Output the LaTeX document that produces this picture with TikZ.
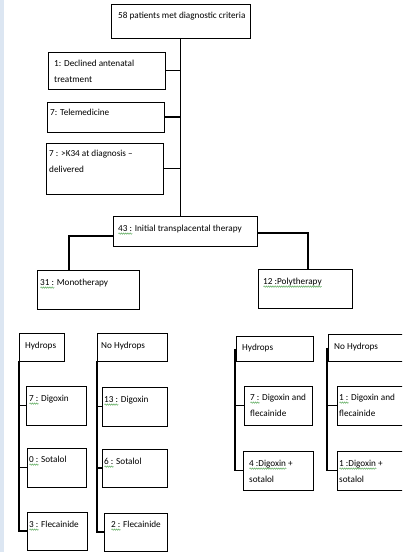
\documentclass[tikz,border=0pt]{standalone}
\usepackage{fontspec}
\setmainfont{Carlito}
\usetikzlibrary{calc,decorations.pathmorphing}
\definecolor{stripblue}{RGB}{220,230,242}
\definecolor{sqgreen}{RGB}{92,170,92}
\newlength\sqlen
\newcommand\sqg[1]{\leavevmode\settowidth\sqlen{#1}\rlap{\tikz[baseline=0pt]\draw[sqgreen, line width=0.5bp, decorate, decoration={snake, amplitude=0.7bp, segment length=2.2bp}] (0pt,-2.6bp) -- (\sqlen,-2.6bp);}#1}
\newcommand\mkbox[5]{\node[box, anchor=north west, minimum width={#4bp-#2bp}, minimum height={#5bp-#3bp}] (#1) at (#2,#3) {};}
\newcommand\twol[2]{\begin{tabular}[t]{@{}l@{}}#1\\#2\end{tabular}}
\begin{document}
\begin{tikzpicture}[x=1bp,y=-1bp,
  box/.style={draw=black, line width=0.9bp, inner sep=0pt, outer sep=0pt},
  conn/.style={draw=black, line width=1.6bp},
  txt/.style={inner sep=0pt, anchor=base west, font=\fontsize{9.2bp}{16bp}\selectfont}]
\useasboundingbox (0,0) rectangle (402,552);
\clip (0,0) rectangle (402,552);
\fill[stripblue] (0,0) rectangle (4,552);
% boxes
\mkbox{top}{111}{4}{250}{38}
\mkbox{decl}{48}{52}{165}{89}
\mkbox{tele}{47}{102}{164}{132}
\mkbox{k34}{46}{143}{163}{194}
\mkbox{init}{113}{216}{257}{246}
\mkbox{mono}{37}{270}{139}{309}
\mkbox{poly}{258}{269}{352}{308}
\mkbox{hydL}{19}{333}{64}{361}
\mkbox{nhL}{97}{333}{167}{361}
\mkbox{dLa}{26}{386}{86}{425}
\mkbox{dLb}{27}{448}{86}{487}
\mkbox{dLc}{27}{512}{87}{550}
\mkbox{nLa}{102}{387}{167}{426}
\mkbox{nLb}{102}{449}{167}{487}
\mkbox{nLc}{104}{513}{167}{551}
\mkbox{hydR}{236}{336}{313}{361}
\mkbox{nhR}{328}{334}{412}{361}
\mkbox{dRa}{244}{386}{312}{425}
\mkbox{dRb}{243}{451}{313}{490}
\mkbox{nRa}{337}{386}{412}{425}
\mkbox{nRb}{337}{451}{412}{490}
% texts
\node[txt] (t-top) at (118,19) {58 patients met diagnostic criteria};
\node[txt] (t-decl) at (54,67) {\twol{1: Declined antenatal}{treatment}};
\node[txt] (t-tele) at (50,116) {7: Telemedicine};
\node[txt] (t-k34) at (49,157) {\twol{7 : >K34 at diagnosis –}{delivered}};
\node[txt] (t-init) at (118,231) {\sqg{43 :} Initial transplacental therapy};
\node[txt] (t-mono) at (40,285) {\sqg{31 :} Monotherapy};
\node[txt] (t-poly) at (263,284) {\sqg{12 :Polytherapy}};
\node[txt] (t-hydL) at (25,348) {Hydrops};
\node[txt] (t-nhL) at (101,348) {No Hydrops};
\node[txt] (t-dLa) at (29,401) {\sqg{7 :} Digoxin};
\node[txt] (t-dLb) at (29,462) {\sqg{0 :} Sotalol};
\node[txt] (t-dLc) at (29,527) {\sqg{3 :} Flecainide};
\node[txt] (t-nLa) at (104,402) {\sqg{13 :} Digoxin};
\node[txt] (t-nLb) at (104,464) {\sqg{6 :} Sotalol};
\node[txt] (t-nLc) at (111,527) {\sqg{2 :} Flecainide};
\node[txt] (t-hydR) at (242,350) {Hydrops};
\node[txt] (t-nhR) at (334,349) {No Hydrops};
\node[txt] (t-dRa) at (250,400) {\twol{\sqg{7 :} Digoxin and}{flecainide}};
\node[txt] (t-dRb) at (249,466) {\twol{\sqg{4 :Digoxin} +}{sotalol}};
\node[txt] (t-nRa) at (339,400) {\twol{\sqg{1 :} Digoxin and}{flecainide}};
\node[txt] (t-nRb) at (339,466) {\twol{\sqg{1 :Digoxin} +}{sotalol}};
% connectors
\draw[conn] (top.south) -- (top.south |- init.north);
\draw[conn] (decl.east) -- (decl.east -| top.south);
\draw[conn] (tele.east) -- (tele.east -| top.south);
\draw[conn] (k34.east) -- (k34.east -| top.south);
\draw[conn] ([yshift=-5bp]init.west) -| ([xshift=-19bp]mono.north);
\draw[conn] ([yshift=-2bp]init.east) -| ([xshift=3bp]poly.north);
\draw[conn] (hydL.south west) |- (dLc.west);
\draw[conn] (dLa.west -| hydL.west) -- (dLa.west);
\draw[conn] (dLb.west -| hydL.west) -- (dLb.west);
\draw[conn] (nhL.south west) |- (nLc.west);
\draw[conn] (nLa.west -| nhL.west) -- (nLa.west);
\draw[conn] (nLb.west -| nhL.west) -- (nLb.west);
\draw[conn] ([xshift=-1bp]hydR.west) |- (dRb.west);
\draw[conn] (dRa.west -| hydR.west) -- (dRa.west);
\draw[conn] ([xshift=-1bp]nhR.west) |- (nRb.west);
\draw[conn] (nRa.west -| nhR.west) -- (nRa.west);
\end{tikzpicture}
\end{document}
